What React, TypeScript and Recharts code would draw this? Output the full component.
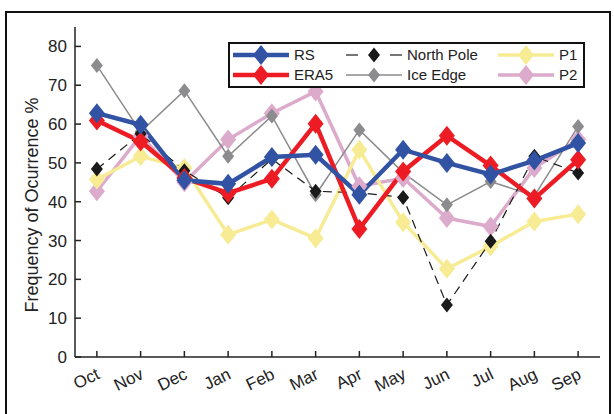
import React from 'react'
import { LineChart, Line, XAxis, YAxis, Legend } from 'recharts'

const months = ['Oct', 'Nov', 'Dec', 'Jan', 'Feb', 'Mar', 'Apr', 'May', 'Jun', 'Jul', 'Aug', 'Sep']
const yTicks = [0, 10, 20, 30, 40, 50, 60, 70, 80]

const rs = [62.8, 59.8, 45.5, 44.6, 51.5, 52.1, 41.8, 53.4, 50.0, 47.0, 50.6, 55.1]
const era5 = [60.9, 55.5, 46.1, 42.2, 45.9, 60.1, 33.0, 47.8, 57.0, 49.3, 40.8, 50.8]
const northPole = [48.4, 57.5, 48.0, 41.0, 51.0, 42.7, 42.3, 41.1, 13.4, 29.8, 51.7, 47.4]
const iceEdge = [75.1, 58.0, 68.6, 51.7, 62.1, 41.8, 58.5, 47.5, 39.2, 45.2, 41.5, 59.4]
const p1 = [45.7, 51.7, 48.7, 31.5, 35.4, 30.6, 53.4, 34.7, 22.7, 28.5, 34.9, 36.8]
const p2 = [42.7, 57.0, 45.0, 56.0, 62.8, 68.4, 44.0, 46.1, 35.8, 33.6, 48.7, 56.0]

const FONT = '"Liberation Sans", Arial, sans-serif'
const AXIS = '#222'
const PLOT_BOTTOM = 357

// drawing order: first is lowest
const series = [
  { key: 'p2', name: 'P2', color: '#dcaacb', width: 3.5, dw: 16, dh: 20, dash: undefined },
  { key: 'p1', name: 'P1', color: '#f7eb94', width: 3.5, dw: 16, dh: 20, dash: undefined },
  { key: 'iceEdge', name: 'Ice Edge', color: '#8c8c8e', width: 1.5, dw: 12, dh: 15, dash: undefined },
  { key: 'northPole', name: 'North Pole', color: '#1a1a1a', width: 1.2, dw: 12, dh: 15, dash: '9 6' },
  { key: 'era5', name: 'ERA5', color: '#ed1c24', width: 4.5, dw: 16, dh: 20, dash: undefined },
  { key: 'rs', name: 'RS', color: '#3253a3', width: 4.5, dw: 16, dh: 20, dash: undefined },
]

const data = months.map((m, i) => ({
  idx: i + 1,
  month: m,
  rs: rs[i],
  era5: era5[i],
  northPole: northPole[i],
  iceEdge: iceEdge[i],
  p1: p1[i],
  p2: p2[i],
}))

const diamondPts = (cx: number, cy: number, w: number, h: number) =>
  `${cx},${cy - h / 2} ${cx + w / 2},${cy} ${cx},${cy + h / 2} ${cx - w / 2},${cy}`

const makeDot = (color: string, w: number, h: number) => (props: any) => {
  const { cx, cy, index } = props
  if (cx == null || cy == null) return <g key={index} />
  return <polygon key={index} points={diamondPts(cx, cy, w, h)} fill={color} stroke="none" />
}

const MonthTick = (props: any) => {
  const { x, payload } = props
  const tx = x + 4
  const ty = PLOT_BOTTOM + 21
  return (
    <text
      x={tx}
      y={ty}
      transform={`rotate(-26 ${tx} ${ty})`}
      textAnchor="end"
      fontSize={17}
      fontFamily={FONT}
      fill="#222"
    >
      {months[payload.value - 1]}
    </text>
  )
}

const YLabel = () => (
  <text
    x={38}
    y={205}
    transform="rotate(-90 38 205)"
    textAnchor="middle"
    fontSize={18}
    fontFamily={FONT}
    fill="#222"
  >
    Frequency of Ocurrence %
  </text>
)

const legendCols = [
  [
    { s: 'rs', x: 5 },
    { s: 'era5', x: 5 },
  ],
  [
    { s: 'northPole', x: 118 },
    { s: 'iceEdge', x: 118 },
  ],
  [
    { s: 'p1', x: 270 },
    { s: 'p2', x: 270 },
  ],
]

const LegendBox = () => (
  <svg width={357} height={46} style={{ display: 'block' }}>
    <rect x={1} y={1} width={355} height={44} fill="#fff" stroke="#111" strokeWidth={2} />
    {legendCols.map((col) =>
      col.map((item, r) => {
        const s = series.find((q) => q.key === item.s)!
        const y = r === 0 ? 13 : 33
        const x0 = item.x
        const x1 = x0 + 56
        const mid = x0 + 28
        return (
          <g key={s.key}>
            {s.dash ? (
              <>
                <line x1={x0} y1={y} x2={x0 + 12} y2={y} stroke={s.color} strokeWidth={s.width} />
                <line x1={x1 - 12} y1={y} x2={x1} y2={y} stroke={s.color} strokeWidth={s.width} />
              </>
            ) : (
              <line x1={x0} y1={y} x2={x1} y2={y} stroke={s.color} strokeWidth={s.width} />
            )}
            <polygon points={diamondPts(mid, y, s.dw, s.dh)} fill={s.color} />
            <text x={x1 + 5} y={y} dy="0.36em" fontSize={15} fontFamily={FONT} fill="#222">
              {s.name}
            </text>
          </g>
        )
      })
    )}
  </svg>
)

export default function App() {
  return (
    <div style={{ position: 'fixed', left: 0, top: 0, width: 614, height: 414, background: '#fff', overflow: 'hidden' }}>
      <div
        style={{
          position: 'absolute',
          left: 5,
          top: 11,
          width: 602,
          height: 420,
          border: '2px solid #111',
        }}
      />
      <LineChart width={614} height={414} data={data} margin={{ top: 27, right: 14, bottom: 0, left: 0 }}>
        <XAxis
          xAxisId="b"
          dataKey="idx"
          type="number"
          domain={[0.5, 12.5]}
          ticks={data.map((d) => d.idx)}
          interval={0}
          allowDataOverflow
          height={57}
          tickSize={-6}
          axisLine={{ stroke: AXIS, strokeWidth: 1.5 }}
          tickLine={{ stroke: AXIS, strokeWidth: 1.5 }}
          tick={<MonthTick />}
        />
        <XAxis
          xAxisId="t"
          orientation="top"
          dataKey="idx"
          type="number"
          domain={[0.5, 12.5]}
          ticks={data.map((d) => d.idx)}
          interval={0}
          allowDataOverflow
          height={0}
          tickSize={-6}
          axisLine={{ stroke: AXIS, strokeWidth: 1.5 }}
          tickLine={{ stroke: AXIS, strokeWidth: 1.5 }}
          tick={false}
        />
        <YAxis
          yAxisId="l"
          type="number"
          domain={[0, 85]}
          ticks={yTicks}
          interval={0}
          allowDataOverflow
          width={75}
          tickSize={-6}
          tickMargin={14}
          axisLine={{ stroke: AXIS, strokeWidth: 1.5 }}
          tickLine={{ stroke: AXIS, strokeWidth: 1.5 }}
          tick={{ fontSize: 17, fontFamily: FONT, fill: '#222' }}
          label={<YLabel />}
        />
        <YAxis
          yAxisId="r"
          orientation="right"
          type="number"
          domain={[0, 85]}
          ticks={yTicks}
          interval={0}
          allowDataOverflow
          width={0}
          tickSize={-6}
          axisLine={{ stroke: AXIS, strokeWidth: 1.5 }}
          tickLine={{ stroke: AXIS, strokeWidth: 1.5 }}
          tick={false}
        />
        {series.map((s) => (
          <Line
            key={s.key}
            xAxisId="b"
            yAxisId="l"
            dataKey={s.key}
            name={s.name}
            type="linear"
            stroke={s.color}
            strokeWidth={s.width}
            strokeDasharray={s.dash}
            dot={makeDot(s.color, s.dw, s.dh)}
            activeDot={false}
            isAnimationActive={false}
          />
        ))}
        <Legend
          layout="horizontal"
          verticalAlign="middle"
          align="center"
          content={<LegendBox />}
          wrapperStyle={{ left: 228, top: 42, width: 357, height: 46 }}
        />
      </LineChart>
    </div>
  )
}
